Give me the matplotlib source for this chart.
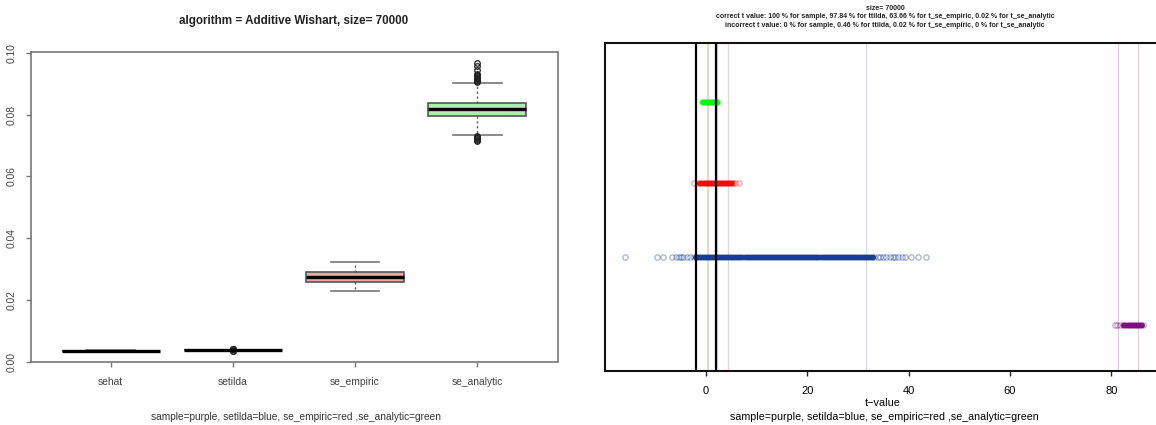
import matplotlib
matplotlib.use('Agg')
import matplotlib.pyplot as plt

plt.rcParams['font.family'] = ['Liberation Sans', 'DejaVu Sans']

# ---------------- left panel data ----------------
box_labels = ['sehat', 'setilda', 'se_empiric', 'se_analytic']
box_whislo = [0.00340, 0.00362, 0.0229, 0.0733]
box_q1 = [0.00352, 0.00372, 0.0259, 0.0797]
box_med = [0.00356, 0.00378, 0.0275, 0.0818]
box_q3 = [0.00360, 0.00384, 0.0290, 0.0839]
box_whishi = [0.00372, 0.00394, 0.0323, 0.0903]
box_fliers = [
    [],
    [0.00345, 0.00352, 0.00400, 0.00406, 0.00412, 0.00418],
    [],
    [0.0716, 0.0719, 0.0722, 0.0724, 0.0726, 0.0728, 0.0730,
     0.0905, 0.0908, 0.0911, 0.0914, 0.0917, 0.0920, 0.0923, 0.0926,
     0.0929, 0.0932, 0.0944, 0.0956, 0.0968],
]
box_fill = ['#d9b3f0', '#b3c4f0', '#f4a4a4', '#a8f2a8']
left_title = 'algorithm = Additive Wishart, size= 70000'
left_yticks = [0.00, 0.02, 0.04, 0.06, 0.08, 0.10]
caption = 'sample=purple, setilda=blue, se_empiric=red ,se_analytic=green'

# ---------------- right panel data ----------------
t_green = [-0.85, -0.6, -0.35, -0.1, 0.15, 0.4, 0.65, 0.9, 1.15, 1.4, 1.65, 1.9, 2.1, 2.3]
t_red = [-2.4, -1.5, -1.2, -0.9, -0.6, -0.3, 0.0, 0.3, 0.6, 0.9, 1.2, 1.5, 1.8, 2.1,
         2.4, 2.7, 3.0, 3.3, 3.6, 3.9, 4.2, 4.5, 4.8, 5.1, 5.4, 5.7, 6.6]
t_blue = [-15.9, -9.6, -8.5, -6.8, -5.9, -5.3, -5.0, -4.6, -3.7, -3.1,
          -2.4, -2.0, -1.6, -1.2, -0.8, -0.4, 0.0, 0.4, 0.8, 1.2, 1.6, 2.0, 2.4, 2.8,
          3.2, 3.6, 4.0, 4.4, 4.8, 5.2, 5.6, 6.0, 6.4, 6.8, 7.2, 7.6, 8.0, 8.4, 8.8,
          9.2, 9.6, 10.0, 10.4, 10.8, 11.2, 11.6, 12.0, 12.4, 12.8, 13.2, 13.6, 14.0,
          14.4, 14.8, 15.2, 15.6, 16.0, 16.4, 16.8, 17.2, 17.6, 18.0, 18.4, 18.8, 19.2,
          19.6, 20.0, 20.4, 20.8, 21.2, 21.6, 22.0, 22.4, 22.8, 23.2, 23.6, 24.0, 24.4,
          24.8, 25.2, 25.6, 26.0, 26.4, 26.8, 27.2, 27.6, 28.0, 28.4, 28.8, 29.2, 29.6,
          30.0, 30.4, 30.8, 31.2, 31.6, 32.0, 32.4, 32.8, 33.2,
          33.9, 34.4, 35.0, 35.5, 36.3, 36.9, 37.4, 37.8, 38.6, 39.2, 40.4, 41.9, 43.5]
t_purple = [80.7, 81.2, 81.7, 82.3, 82.6, 82.9, 83.2, 83.5, 83.8, 84.1, 84.4, 84.7,
            85.0, 85.3, 85.6, 85.9, 86.2]
# extents of the solid (heavily over-plotted) part of each strip
dense_green = [-0.7, 2.1]
dense_red = [-1.3, 5.2]
dense_blue = [-2.2, 33.0]
dense_purple = [82.3, 86.1]
crit_values = [-1.96, 1.96]
q_green = [0.1, 1.7]
q_red = [0.4, 4.4]
q_blue = [2.2, 31.5]
q_purple = [81.4, 85.3]
right_xticks = [0, 20, 40, 60, 80]
right_title = ['size= 70000',
               'correct t value: 100 % for sample, 97.84 % for ttilda, 63.66 % for t_se_empiric, 0.02 % for t_se_analytic',
               'incorrect t value: 0 % for sample, 0.46 % for ttilda, 0.02 % for t_se_empiric, 0 % for t_se_analytic']
xlabel = 't\u2212value'

W, H = 1156, 425
fig = plt.figure(figsize=(W / 100, H / 100), dpi=100)

def frac_box(x0, x1, y0, y1):
    return [x0 / W, 1 - y1 / H, (x1 - x0) / W, (y1 - y0) / H]

# ================= left panel =================
axL = fig.add_axes(frac_box(30.7, 557.5, 52.5, 362.3))
stats = []
for i in range(len(box_labels)):
    stats.append(dict(label=box_labels[i], whislo=box_whislo[i], q1=box_q1[i],
                      med=box_med[i], q3=box_q3[i], whishi=box_whishi[i],
                      fliers=box_fliers[i]))
bp = axL.bxp(stats, positions=[1, 2, 3, 4], widths=0.8, capwidths=0.4,
             patch_artist=True, showfliers=True,
             boxprops=dict(edgecolor='#555555', linewidth=1.2),
             whiskerprops=dict(color='#555555', linestyle=(0, (1.5, 2)), linewidth=1.0),
             capprops=dict(color='#777777', linewidth=1.2),
             medianprops=dict(color='black', linewidth=2.4),
             flierprops=dict(marker='o', markerfacecolor='none', markeredgecolor='#222222',
                             markersize=4, markeredgewidth=0.9))
for patch, c in zip(bp['boxes'], box_fill):
    patch.set_facecolor(c)
axL.set_xlim(0.345, 4.658)
axL.set_ylim(-0.0002, 0.1001)
axL.set_yticks(left_yticks)
axL.set_yticklabels([f'{v:.2f}' for v in left_yticks], rotation=90, va='center')
axL.set_xticks([1, 2, 3, 4])
axL.set_xticklabels(box_labels)
for s in axL.spines.values():
    s.set_color('#777777')
    s.set_linewidth(1.2)
axL.tick_params(axis='both', direction='out', length=3.6, width=1.0, color='#777777',
                labelsize=7.4, labelcolor='#444444')
axL.tick_params(axis='y', pad=6.5)
axL.tick_params(axis='x', pad=7)
fig.text(294 / W, 1 - 20.7 / H, left_title, ha='center', va='center',
         fontsize=8.4, fontweight='bold', color='#222222')
fig.text(296 / W, 1 - 417 / H, caption, ha='center', va='center',
         fontsize=7.25, color='#333333')

# ================= right panel =================
axR = fig.add_axes(frac_box(604.7, 1165, 43.3, 370.7))
axR.set_xlim(-20.0, 90.6)
axR.set_ylim(0, 1)

for v in q_green:
    axR.axvline(v, color='#7be07b', alpha=0.4, lw=0.9)
for v in q_red:
    axR.axvline(v, color='#ff8080', alpha=0.4, lw=0.9)
for v in q_blue:
    axR.axvline(v, color='#9fb2dc', alpha=0.45, lw=0.9)
for v in q_purple:
    axR.axvline(v, color='#d9a0ea', alpha=0.6, lw=0.9)
for v in crit_values:
    axR.axvline(v, color='black', lw=1.6, zorder=4)

rows = [(t_green, dense_green, 0.822, '#11ee11'), (t_red, dense_red, 0.573, '#ff0000'),
        (t_blue, dense_blue, 0.347, '#0f3a8c'), (t_purple, dense_purple, 0.140, '#7a0a80')]
for vals, dense, ypos, col in rows:
    axR.plot(vals, [ypos] * len(vals), linestyle='none', marker='o',
             markerfacecolor='none', markeredgecolor=col, markersize=3.8,
             markeredgewidth=1.0, alpha=0.35, zorder=3)
    axR.hlines(ypos, dense[0], dense[1], colors=col, linewidth=3.6,
               capstyle='round', alpha=0.95, zorder=3)

axR.set_yticks([])
axR.set_xticks(right_xticks)
axR.set_xticklabels([str(v) for v in right_xticks])
for s in axR.spines.values():
    s.set_color('#111111')
    s.set_linewidth(1.5)
axR.tick_params(axis='x', direction='out', length=3.8, width=1.0, color='#222222',
                labelsize=8, pad=7.5)

tcx = 885 / W
for line, yy in zip(right_title, [8.3, 16.9, 25.8]):
    fig.text(tcx, 1 - yy / H, line, ha='center', va='center', fontsize=5.05,
             fontweight='bold', color='#222222')
fig.text(883 / W, 1 - 403 / H, xlabel, ha='center', va='center', fontsize=7.8)
fig.text(884 / W, 1 - 416.5 / H, caption, ha='center', va='center', fontsize=7.65)

fig.savefig('out.png', dpi=100)
